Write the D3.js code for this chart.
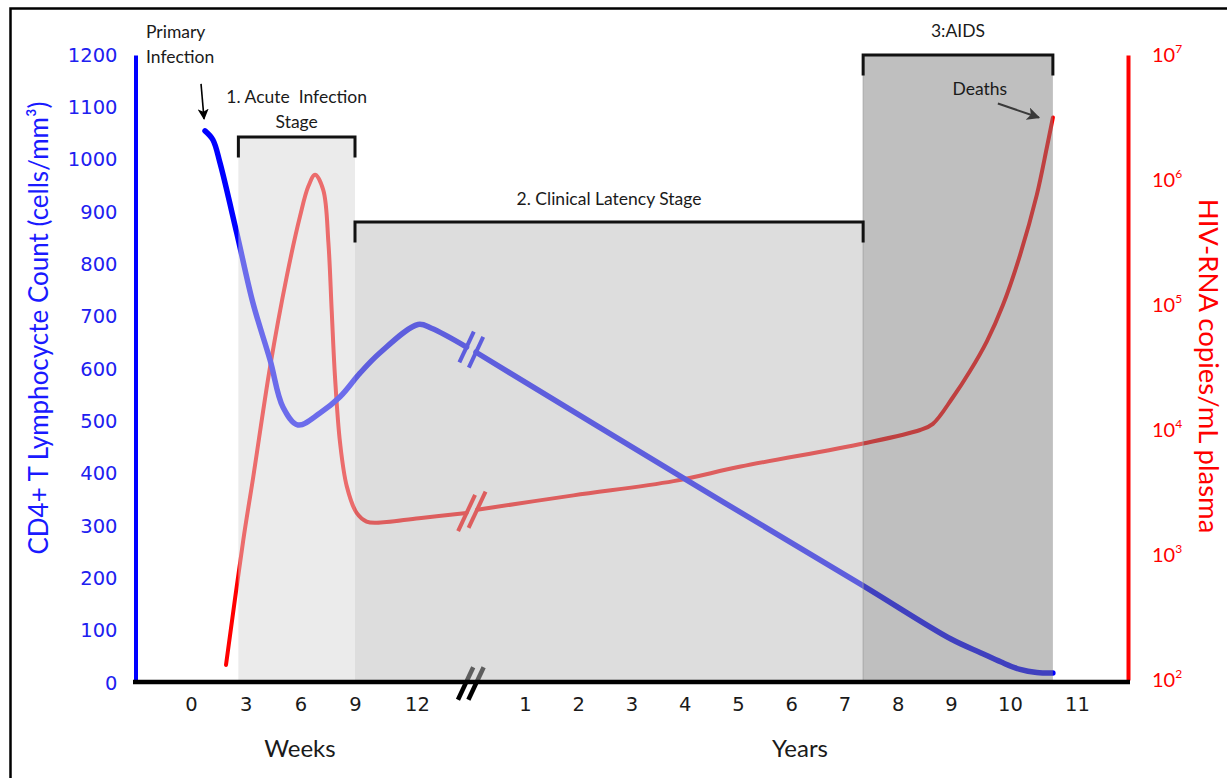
<!DOCTYPE html>
<html><head><meta charset="utf-8">
<script src="https://cdn.jsdelivr.net/npm/d3@7"></script>
<style>
body{margin:0;background:#fff;}
svg{display:block;}
</style></head><body>
<svg id="chart" width="1227" height="778"></svg>
<script>
// ---------- data ----------
const weekTicks = [0, 3, 6, 9, 12];
const yearTicks = [1, 2, 3, 4, 5, 6, 7, 8, 9, 10, 11];
const cd4Ticks = [0, 100, 200, 300, 400, 500, 600, 700, 800, 900, 1000, 1100, 1200];
const rnaTicks = [1e2, 1e3, 1e4, 1e5, 1e6, 1e7];
const rnaTickExp = ["2", "3", "4", "5", "6", "7"];

// CD4+ count: [week, cells/mm3] and [year, cells/mm3]
const cd4Weeks = [[0.77,1055],[1.2,1038],[1.59,994],[2.51,860],[3.40,726],[4.34,617],[5.05,527],[5.87,493],[7.08,516],[8.18,547],[9.24,592],[10.21,631],[12.05,685],[12.7,678],[14.4,642]];
const cd4Years = [[0.08,632],[4,390],[7.3,189],[9,84],[9.5,58],[9.85,40],[10.15,26],[10.4,20],[10.64,19]];

// HIV-RNA copies/mL: [week, copies] and [year, copies]
const rnaWeeks = [[1.92,132],[2.87,1320],[3.42,4250],[4.34,32000],[5.25,168000],[5.98,510000],[6.44,890000],[6.81,1100000],[7.26,830000],[7.54,315000],[7.72,91000],[7.90,27000],[8.18,7900],[8.55,3540],[9.08,2170],[9.56,1850],[10.05,1810],[12.1,1970],[14.4,2170]];
const rnaYears = [[0.1,2300],[1.91,3000],[3.79,3900],[5.05,5100],[7.35,7800],[8.42,10000],[8.66,11200],[9.03,18200],[9.32,29500],[9.61,51500],[9.88,100000],[10.15,251000],[10.40,760000],[10.55,1820000],[10.64,3160000]];

// stages: [start segment, start, end segment, end]
const stageNames = ["1. Acute  Infection", "2. Clinical Latency Stage", "3:AIDS"];
const stageBounds = [["w",2.6,"w",9],["w",9,"y",7.35],["y",7.35,"y",10.64]];

// ---------- scales ----------
const svg = d3.select("#chart");
const xW = d3.scaleLinear().domain([0, 9, 12, 15]).range([191, 355, 417, 479]);
const xY = d3.scaleLinear().domain([0, 9, 10, 11]).range([471.75, 951, 1010, 1077]);
const yL = d3.scaleLinear().domain([0, 1200]).range([683, 55]);
const yR = d3.scaleLog().domain([1e2, 1e7]).range([680, 55]);
const sx = (seg, v) => seg === "w" ? xW(v) : xY(v);

const FONT = "Lato, 'Open Sans', sans-serif";
const TICKFONT = "'DejaVu Sans', sans-serif";

// frame
svg.append("rect").attr("x", 10.5).attr("y", 8.5).attr("width", 1400).attr("height", 1000)
  .attr("fill", "none").attr("stroke", "#000").attr("stroke-width", 2.5);

// defs
const defs = svg.append("defs");
defs.append("marker").attr("id", "arrBlack").attr("viewBox", "0 0 10 10")
  .attr("refX", 9).attr("refY", 5).attr("markerWidth", 11).attr("markerHeight", 11)
  .attr("markerUnits", "userSpaceOnUse").attr("orient", "auto")
  .append("path").attr("d", "M0,0 L10,5 L0,10 L2.5,5 Z").attr("fill", "#000");
defs.append("marker").attr("id", "arrGray").attr("viewBox", "0 0 10 10")
  .attr("refX", 9).attr("refY", 5).attr("markerWidth", 13).attr("markerHeight", 13)
  .attr("markerUnits", "userSpaceOnUse").attr("orient", "auto")
  .append("path").attr("d", "M0,0 L10,5 L0,10 L2.5,5 Z").attr("fill", "#3a3a3a");

// ---------- curves ----------
const crv = d3.curveCatmullRom.alpha(0.5);
const lineCW = d3.line().x(d => xW(d[0])).y(d => yL(d[1])).curve(crv);
const lineCY = d3.line().x(d => xY(d[0])).y(d => yL(d[1])).curve(crv);
const lineRW = d3.line().x(d => xW(d[0])).y(d => yR(d[1])).curve(crv);
const lineRY = d3.line().x(d => xY(d[0])).y(d => yR(d[1])).curve(crv);

const gLines = svg.append("g");
gLines.append("path").attr("d", lineRW(rnaWeeks)).attr("fill", "none").attr("stroke", "#ff0000").attr("stroke-width", 4).attr("stroke-linecap", "round");
gLines.append("path").attr("d", lineRY(rnaYears)).attr("fill", "none").attr("stroke", "#ff0000").attr("stroke-width", 4).attr("stroke-linecap", "round");
gLines.append("path").attr("d", lineCW(cd4Weeks)).attr("fill", "none").attr("stroke", "#0000ff").attr("stroke-width", 5.5).attr("stroke-linecap", "round");
gLines.append("path").attr("d", lineCY(cd4Years)).attr("fill", "none").attr("stroke", "#0000ff").attr("stroke-width", 5.5).attr("stroke-linecap", "round");

// break strokes on the curves
function breakStroke(cx, cy, len, color, w) {
  const dx = 15, dy = -32, n = Math.hypot(dx, dy);
  const ux = dx / n * len / 2, uy = dy / n * len / 2;
  gLines.append("line").attr("x1", cx - ux).attr("y1", cy - uy).attr("x2", cx + ux).attr("y2", cy + uy)
    .attr("stroke", color).attr("stroke-width", w);
}
const cwEnd = cd4Weeks[cd4Weeks.length - 1], cyStart = cd4Years[0];
breakStroke(xW(cwEnd[0]), yL(cwEnd[1]), 34, "#0000ff", 4);
breakStroke(xY(cyStart[0]), yL(cyStart[1]), 34, "#0000ff", 4);
const rwEnd = rnaWeeks[rnaWeeks.length - 1], ryStart = rnaYears[0];
breakStroke(xW(rwEnd[0]), yR(rwEnd[1]), 40, "#ff0000", 4);
breakStroke(xY(ryStart[0]), yR(ryStart[1]), 40, "#ff0000", 4);
// axis break strokes
breakStroke(xW(cwEnd[0]) - 1, 683.5, 36, "#000", 4.5);
breakStroke(xY(cyStart[0]), 683.5, 36, "#000", 4.5);

// ---------- stage overlays ----------
const stageFill = ["#d8d8d8", "#bcbcbc", "#808080"];
const stageTop = [137, 222, 55];
stageBounds.forEach((b, i) => {
  const x0 = sx(b[0], b[1]), x1 = sx(b[2], b[3]);
  svg.append("rect").attr("x", x0).attr("y", stageTop[i]).attr("width", x1 - x0).attr("height", 682 - stageTop[i])
    .attr("fill", stageFill[i]).attr("fill-opacity", 0.5);
});
{
  const b = stageBounds[2];
  const x0 = sx(b[0], b[1]);
  svg.append("line").attr("x1", x0).attr("x2", x0).attr("y1", stageTop[2]).attr("y2", 682)
    .attr("stroke", "#9a9a9a").attr("stroke-width", 1.2).attr("opacity", 0.6);
}
// brackets
stageBounds.forEach((b, i) => {
  const x0 = sx(b[0], b[1]), x1 = sx(b[2], b[3]), t = stageTop[i];
  svg.append("path").attr("d", `M${x0},${t + 19}V${t}H${x1}V${t + 19}`)
    .attr("fill", "none").attr("stroke", "#111").attr("stroke-width", 3).attr("stroke-linecap", "square");
});

// ---------- axes ----------
const axL = svg.append("g").attr("transform", "translate(135.5,0)")
  .call(d3.axisLeft(yL).tickValues(cd4Ticks).tickFormat(d3.format("d")).tickSize(0).tickSizeOuter(0).tickPadding(18));
axL.attr("font-family", TICKFONT);
axL.select(".domain").attr("stroke", "#0000ff").attr("stroke-width", 4);
axL.selectAll("text").attr("font-family", TICKFONT).attr("font-size", 19.5).attr("fill", "#2020f0");

const axR = svg.append("g").attr("transform", "translate(1128,0)")
  .call(d3.axisRight(yR).tickValues(rnaTicks).tickSize(0).tickSizeOuter(0).tickPadding(24).tickFormat(() => ""));
axR.select(".domain").attr("stroke", "#ff0000").attr("stroke-width", 4);
axR.selectAll(".tick text").each(function(d, i) {
  const t = d3.select(this).attr("font-family", FONT).attr("font-size", 20).attr("fill", "#ff0000");
  t.append("tspan").text("10");
  t.append("tspan").text(rnaTickExp[i]).attr("font-size", 12).attr("dy", "-0.75em");
});

svg.append("line").attr("x1", 133).attr("x2", 1130).attr("y1", 682).attr("y2", 682)
  .attr("stroke", "#000").attr("stroke-width", 4.5);
const axW = svg.append("g").attr("transform", "translate(0,682)")
  .call(d3.axisBottom(xW).tickValues(weekTicks).tickSize(0).tickPadding(15));
const axY = svg.append("g").attr("transform", "translate(0,682)")
  .call(d3.axisBottom(xY).tickValues(yearTicks).tickSize(0).tickPadding(15));
[axW, axY].forEach(a => {
  a.attr("font-family", TICKFONT);
  a.select(".domain").remove();
  a.selectAll("text").attr("font-family", TICKFONT).attr("font-size", 19.5).attr("fill", "#1a1a1a");
});

// ---------- titles & annotations ----------
const txt = (x, y, s, size, anchor, color) => svg.append("text").attr("x", x).attr("y", y).text(s)
  .attr("font-family", FONT).attr("font-size", size).attr("text-anchor", anchor || "start").attr("fill", color || "#1a1a1a");

svg.append("text").attr("transform", "translate(38,328) rotate(-90)")
  .attr("text-anchor", "middle").attr("dominant-baseline", "central")
  .attr("font-family", FONT).attr("font-size", 26).attr("fill", "#1a1aff")
  .text("CD4+ T Lymphocycte Count (cells/mm³)");
svg.append("text").attr("transform", "translate(1209,366) rotate(90)")
  .attr("text-anchor", "middle").attr("dominant-baseline", "central")
  .attr("font-family", FONT).attr("font-size", 27.5).attr("fill", "#ff0000")
  .text("HIV-RNA copies/mL plasma");

txt(300, 757, "Weeks", 24, "middle");
txt(800, 757, "Years", 24, "middle");

txt(146, 38, "Primary", 17.5);
txt(146, 63, "Infection", 17.5);
const c0 = cd4Weeks[0];
svg.append("line").attr("x1", xW(c0[0]) - 4).attr("y1", yL(c0[1]) - 47)
  .attr("x2", xW(c0[0]) - 1).attr("y2", yL(c0[1]) - 12)
  .attr("stroke", "#000").attr("stroke-width", 1.6).attr("marker-end", "url(#arrBlack)");

const mid = b => (sx(b[0], b[1]) + sx(b[2], b[3])) / 2;
txt(mid(stageBounds[0]), 103, stageNames[0], 17.5, "middle").attr("xml:space", "preserve");
txt(mid(stageBounds[0]), 128, "Stage", 17.5, "middle");
txt(mid(stageBounds[1]), 205, stageNames[1], 17.5, "middle");
txt(mid(stageBounds[2]), 37, stageNames[2], 17.5, "middle");

const rEnd = rnaYears[rnaYears.length - 1];
txt(xY(rEnd[0]) - 73, 95, "Deaths", 17.5, "middle");
svg.append("line").attr("x1", xY(rEnd[0]) - 55).attr("y1", yR(rEnd[1]) - 14)
  .attr("x2", xY(rEnd[0]) - 14).attr("y2", yR(rEnd[1]))
  .attr("stroke", "#3a3a3a").attr("stroke-width", 2).attr("marker-end", "url(#arrGray)");
</script>
</body></html>
